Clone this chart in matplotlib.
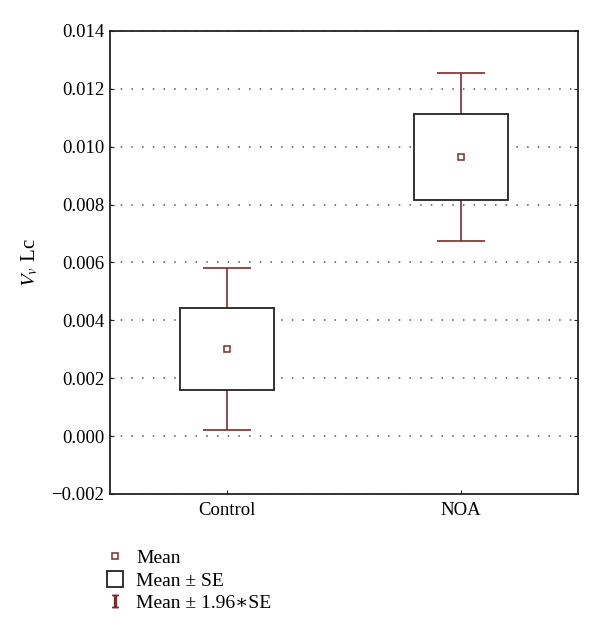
import matplotlib
matplotlib.use("Agg")
import matplotlib.pyplot as plt
from matplotlib.lines import Line2D
from matplotlib.patches import Rectangle

# ── data ──────────────────────────────────────────────────────────────────────
groups = ["Control", "NOA"]
means = [0.00301, 0.00964]
se = [0.00142, 0.00148]

yticks = [-0.002, 0.000, 0.002, 0.004, 0.006, 0.008, 0.010, 0.012, 0.014]
ytick_labels = ["\u22120.002", "0.000", "0.002", "0.004", "0.006",
                "0.008", "0.010", "0.012", "0.014"]

# ── style ─────────────────────────────────────────────────────────────────────
plt.rcParams["font.family"] = ["Liberation Serif", "DejaVu Serif"]
plt.rcParams["mathtext.fontset"] = "stix"

WHISK = "#7a2e2e"
BOX = "#222222"

fig = plt.figure(figsize=(6.0, 6.36), dpi=100)
ax = fig.add_axes([0.1833, 0.2233, 0.78, 0.728])

x = list(range(len(groups)))
ci = [1.96 * s for s in se]

# whiskers (mean ± 1.96*SE)
ax.errorbar(x, means, yerr=ci, fmt="none", ecolor=WHISK, elinewidth=1.2,
            capsize=17.3, capthick=1.2, zorder=2)
# boxes (mean ± SE)
ax.bar(x, [2 * s for s in se], bottom=[m - s for m, s in zip(means, se)],
       width=0.405, color="white", edgecolor=BOX, linewidth=1.3, zorder=3)
# means
ax.plot(x, means, linestyle="none", marker="s", markersize=5,
        markerfacecolor="white", markeredgecolor=WHISK, markeredgewidth=1.1,
        zorder=4)

ax.set_xlim(-0.5, 1.5)
ax.set_ylim(-0.002, 0.014)
ax.set_yticks(yticks)
ax.set_yticklabels(ytick_labels)
ax.set_xticks(x)
ax.set_xticklabels(groups)
ax.tick_params(axis="both", direction="in", length=3, labelsize=13.5,
               right=True, colors="#222222", labelcolor="black")
ax.tick_params(axis="y", pad=4)
ax.tick_params(axis="x", pad=6)

ax.yaxis.grid(True, linestyle=(0, (1, 6)), color="#555555", linewidth=1.1,
              zorder=0)
ax.set_axisbelow(True)
for sp in ax.spines.values():
    sp.set_linewidth(1.3)
    sp.set_color("#222222")

ax.set_ylabel(r"$V_v$ Lc", fontsize=15)
ax.yaxis.set_label_coords(-0.148, 0.5)

# ── legend ────────────────────────────────────────────────────────────────────
handles = [
    Line2D([], [], linestyle="none", marker="s", markersize=5,
           markerfacecolor="white", markeredgecolor=WHISK, markeredgewidth=1.1),
    Rectangle((0, 0), 1, 1, facecolor="white", edgecolor=BOX, linewidth=1.3),
    Line2D([], [], linestyle="none", marker=r"$\mathrm{I}$", markersize=9,
           color=WHISK),
]
labels = ["Mean", "Mean \u00b1 SE", "Mean \u00b1 1.96\u2217SE"]
fig.legend(handles, labels, loc="upper left", bbox_to_anchor=(0.165, 0.15),
           frameon=False, fontsize=14, handlelength=0.85, handleheight=0.9,
           handletextpad=0.65, labelspacing=0.2, borderaxespad=0)

fig.savefig("out.png", dpi=100)
